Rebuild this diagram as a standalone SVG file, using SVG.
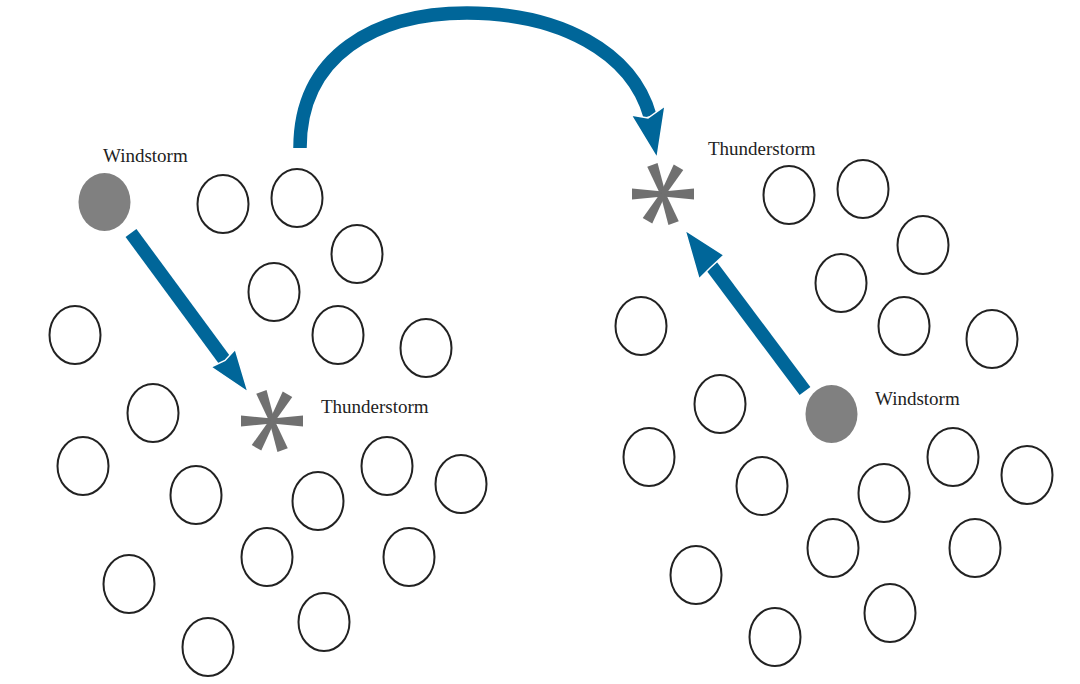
<svg xmlns="http://www.w3.org/2000/svg" xmlns:xlink="http://www.w3.org/1999/xlink" width="1080" height="684" viewBox="0 0 1080 684">
<style>
.c{fill:#fff;stroke:#222;stroke-width:2}
.w{fill:#808080}
.lbl{font-family:"Liberation Serif","Times New Roman",serif;font-size:19px;fill:#222}
.shaft{fill:none;stroke:#006699;stroke-width:13.5}
.head{fill:#006699;stroke:#fff;stroke-width:1.5;stroke-linejoin:miter}
.ast{fill:#707070}
</style>
<defs>
<path id="arm" d="M0,-2.6 L31,-5.5 L31,5.5 L0,2.6 Z"/>
<g id="asterisk" class="ast">
<use xlink:href="#arm" transform="rotate(0)"/>
<use xlink:href="#arm" transform="rotate(180)"/>
<use xlink:href="#arm" transform="rotate(70)"/>
<use xlink:href="#arm" transform="rotate(-110)"/>
<use xlink:href="#arm" transform="rotate(120)"/>
<use xlink:href="#arm" transform="rotate(-60)"/>
</g>
</defs>
<rect width="1080" height="684" fill="#fff"/>

<g id="left-cluster">
<ellipse class="c" cx="223" cy="204" rx="25.5" ry="29"/>
<ellipse class="c" cx="297" cy="198" rx="25.5" ry="29"/>
<ellipse class="c" cx="357" cy="254" rx="25.5" ry="29"/>
<ellipse class="c" cx="274" cy="292" rx="25.5" ry="29"/>
<ellipse class="c" cx="338" cy="335" rx="25.5" ry="29"/>
<ellipse class="c" cx="426" cy="348" rx="25.5" ry="29"/>
<ellipse class="c" cx="75" cy="335" rx="25.5" ry="29"/>
<ellipse class="c" cx="153" cy="413" rx="25.5" ry="29"/>
<ellipse class="c" cx="83" cy="466" rx="25.5" ry="29"/>
<ellipse class="c" cx="196" cy="495" rx="25.5" ry="29"/>
<ellipse class="c" cx="387" cy="466" rx="25.5" ry="29"/>
<ellipse class="c" cx="461" cy="484" rx="25.5" ry="29"/>
<ellipse class="c" cx="318" cy="501" rx="25.5" ry="29"/>
<ellipse class="c" cx="267" cy="557" rx="25.5" ry="29"/>
<ellipse class="c" cx="409" cy="557" rx="25.5" ry="29"/>
<ellipse class="c" cx="129" cy="584" rx="25.5" ry="29"/>
<ellipse class="c" cx="208" cy="647" rx="25.5" ry="29"/>
<ellipse class="c" cx="324" cy="622" rx="25.5" ry="29"/>
</g>

<g id="right-cluster">
<ellipse class="c" cx="789" cy="195" rx="25.5" ry="29"/>
<ellipse class="c" cx="863" cy="189" rx="25.5" ry="29"/>
<ellipse class="c" cx="923" cy="245" rx="25.5" ry="29"/>
<ellipse class="c" cx="841" cy="283" rx="25.5" ry="29"/>
<ellipse class="c" cx="904" cy="326" rx="25.5" ry="29"/>
<ellipse class="c" cx="992" cy="339" rx="25.5" ry="29"/>
<ellipse class="c" cx="641" cy="326" rx="25.5" ry="29"/>
<ellipse class="c" cx="720" cy="404" rx="25.5" ry="29"/>
<ellipse class="c" cx="649" cy="457" rx="25.5" ry="29"/>
<ellipse class="c" cx="762" cy="486" rx="25.5" ry="29"/>
<ellipse class="c" cx="953" cy="457" rx="25.5" ry="29"/>
<ellipse class="c" cx="1027" cy="475" rx="25.5" ry="29"/>
<ellipse class="c" cx="884" cy="493" rx="25.5" ry="29"/>
<ellipse class="c" cx="833" cy="548" rx="25.5" ry="29"/>
<ellipse class="c" cx="975" cy="548" rx="25.5" ry="29"/>
<ellipse class="c" cx="696" cy="575" rx="25.5" ry="29"/>
<ellipse class="c" cx="775" cy="637" rx="25.5" ry="29"/>
<ellipse class="c" cx="890" cy="613" rx="25.5" ry="29"/>
</g>

<g id="windstorm-left">
<ellipse class="w" cx="104.5" cy="202" rx="26" ry="29"/>
<text class="lbl" x="103" y="162">Windstorm</text>
</g>

<g id="thunderstorm-left">
<use xlink:href="#asterisk" transform="translate(272,421)"/>
<text class="lbl" x="321" y="413">Thunderstorm</text>
</g>

<g id="thunderstorm-right">
<use xlink:href="#asterisk" transform="translate(663,194)"/>
<text class="lbl" x="708" y="155">Thunderstorm</text>
</g>

<g id="windstorm-right">
<ellipse class="w" cx="831.5" cy="414" rx="26" ry="29"/>
<text class="lbl" x="875" y="405">Windstorm</text>
</g>

<g id="connectors">
<path class="shaft" d="M300,148 C300,55 376,13 467,13 C560,13 632,52 650,116"/>
<polygon class="head" points="657,158 631,115 648,118 665,106"/>

<path class="shaft" d="M131,233 L226,362"/>
<polygon class="head" points="248,392 211,367 225,360.5 235.3,349.2"/>

<path class="shaft" d="M805,391 L710,264"/>
<polygon class="head" points="685,230 724,255 710,268 699,279"/>
</g>
</svg>
